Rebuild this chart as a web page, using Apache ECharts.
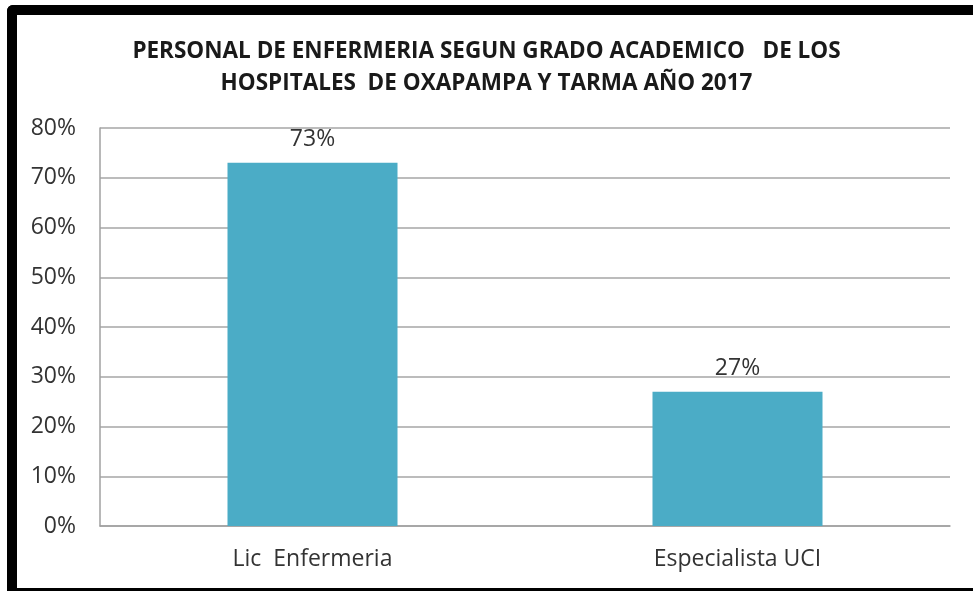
<!DOCTYPE html>
<html lang="es">
<head>
<meta charset="utf-8">
<title>Personal de enfermeria</title>
<script src="https://cdn.jsdelivr.net/npm/echarts@6/dist/echarts.min.js"></script>
<style>
  html, body { margin: 0; padding: 0; background: #fff; }
  #frame { position: absolute; left: 7px; top: 5px; width: 980px; height: 573px;
           border-left: 10px solid #000; border-top: 10px solid #000; border-bottom: 3px solid #000;
           border-top-left-radius: 6px; }
  #main { position: absolute; left: 0; top: 0; width: 973px; height: 591px; }
</style>
</head>
<body>
<div id="frame"></div>
<div id="main"></div>
<script>
var titleLines = ['PERSONAL DE ENFERMERIA SEGUN GRADO ACADEMICO   DE LOS',
                  'HOSPITALES  DE OXAPAMPA Y TARMA AÑO 2017'];
var categories = ['Lic  Enfermeria', 'Especialista UCI'];
var values = [73, 27];

var chart = echarts.init(document.getElementById('main'));
var font = 'Open Sans';
var option = {
    animation: false,
    title: {
        text: titleLines.join('\n'),
        left: 'center',
        top: 31,
        padding: [5, 0, 5, 20],
        textStyle: {
            fontFamily: font,
            fontWeight: 'bold',
            fontSize: 22.5,
            lineHeight: 32,
            color: '#1a1a1a'
        }
    },
    grid: { left: 100, right: 23, top: 128, bottom: 65 },
    xAxis: {
        type: 'category',
        data: categories,
        axisLine: { lineStyle: { color: '#a0a0a0', width: 1.5 } },
        axisTick: { show: false },
        axisLabel: { margin: 22, fontFamily: font, fontSize: 23, color: '#333' }
    },
    yAxis: {
        type: 'value',
        min: 0,
        max: 80,
        interval: 10,
        axisLine: { show: true, lineStyle: { color: '#a0a0a0', width: 1.5 } },
        axisTick: { show: false },
        splitLine: { lineStyle: { color: '#a6a6a6', width: 1.5 } },
        axisLabel: {
            margin: 24,
            fontFamily: font,
            fontSize: 23,
            color: '#333',
            formatter: '{value}%'
        }
    },
    series: [{
        type: 'bar',
        data: values,
        barWidth: '40%',
        itemStyle: { color: '#4bacc6' },
        label: {
            show: true,
            position: 'top',
            distance: 12,
            fontFamily: font,
            fontSize: 23,
            color: '#333',
            formatter: '{c}%'
        }
    }]
};
chart.setOption(option);
</script>
</body>
</html>
